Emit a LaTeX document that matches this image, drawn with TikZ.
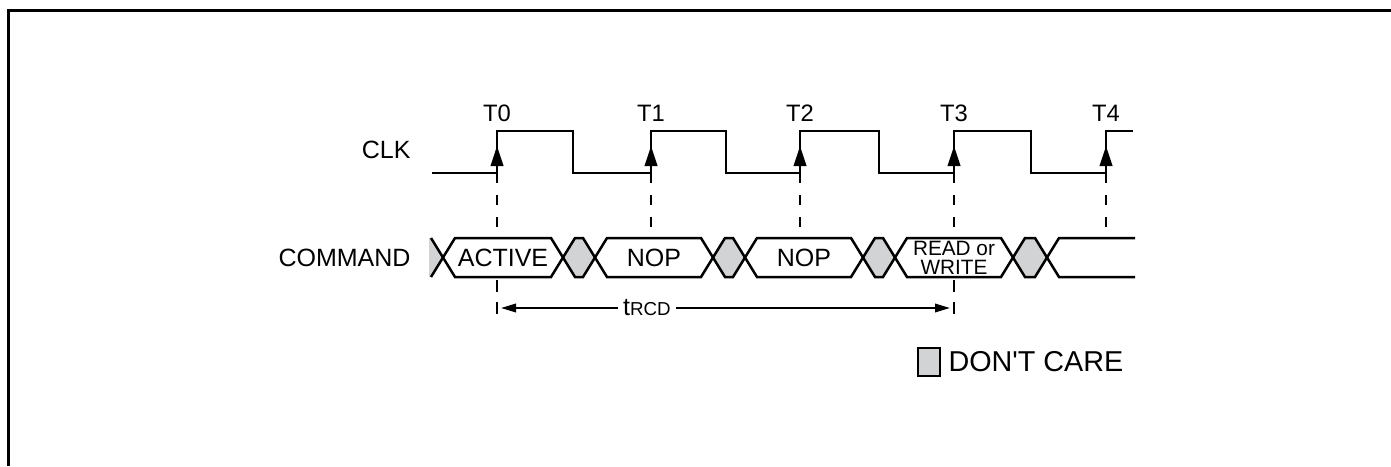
\documentclass[tikz,border=0pt]{standalone}
\usepackage{fontspec}
\setmainfont{Liberation Sans}
\usetikzlibrary{arrows.meta}
\definecolor{dontcare}{HTML}{D1D3D4}
\tikzset{
  wave/.style={line width=1pt, draw=black},
  bus/.style={line width=1pt, draw=black, fill=white},
  gapbus/.style={line width=1pt, draw=black, fill=dontcare},
  marker/.style={line width=0.9pt, draw=black, dash pattern=on 4pt off 4.8pt},
  edgearrow/.style={line width=0.9pt, -{Triangle[length=8pt,width=5pt]}},
  dim/.style={line width=0.8pt, -{Triangle[length=6pt,width=3.4pt]}, shorten >=1.6pt},
  sig/.style={font=\fontsize{10}{12}\selectfont, anchor=east, inner sep=0pt},
  lbl/.style={font=\fontsize{9.5}{11}\selectfont, inner sep=0pt}
}
\begin{document}
\begin{tikzpicture}[x=0.4pt,y=-0.4pt]
  \useasboundingbox (0,0) rectangle (1391,466);
  % frame
  \draw[line width=1.2pt] (8,466) -- (8,11) -- (1391,11);
  % signal names
  \node[sig] (clk) at (411,150) {CLK};
  \node[sig] (cmd) at (411,257.5) {COMMAND};
  % clock
  \draw[wave] (432,173) -| (497,131) -| (573,173) -| (651,131) -| (726,173)
    -| (800,131) -| (879,173) -| (954,131) -| (1031,173) -| (1106,131) -- (1133,131);
  \foreach \x [count=\i from 0] in {497,651,800,954,1106} {
    \coordinate (e\i) at (\x,173);
    \node[lbl] (t\i) at (\x,113) {T\i};
    \draw[edgearrow] (e\i) -- ++(0,-27);
    \draw[marker] (e\i) -- (\x,238);
  }
  % command bus
  \fill[dontcare] (429,238) -- (431,238) -- (443,257.5) -- (431,277) -- (429,277) -- cycle;
  \draw[wave] (431,238) -- (443,257.5) -- (431,277);
  \foreach \b/\a in {563/595,713/745,863/895,1013/1047}
    \draw[gapbus] (\b,257.5) -- (\b+12,238) -- (\a-12,238) -- (\a,257.5)
      -- (\a-12,277) -- (\b+12,277) -- cycle;
  \foreach \a/\b/\name [count=\k] in {443/563/ACTIVE,595/713/NOP,745/863/NOP} {
    \draw[bus] (\a,257.5) -- (\a+12,238) -- (\b-12,238) -- (\b,257.5)
      -- (\b-12,277) -- (\a+12,277) -- cycle;
    \node[lbl, font=\fontsize{10}{12}\selectfont] (c\k) at ({(\a+\b)/2},258) {\name};
  }
  \draw[bus] (895,257.5) -- (907,238) -- (1001,238) -- (1013,257.5)
    -- (1001,277) -- (907,277) -- cycle;
  \node[lbl, align=center, font=\fontsize{8.3}{7.8}\selectfont] (c4) at (954,258) {READ or\\WRITE};
  \draw[wave] (1135,238) -- (1059,238) -- (1047,257.5) -- (1059,277) -- (1135,277);
  % tRCD
  \foreach \x/\i in {497/0,954/3} {
    \draw[line width=0.9pt] (\x,280) -- (\x,292);
    \draw[line width=0.9pt] (\x,302) -- (\x,314);
    \coordinate (m\i) at (\x,308);
  }
  \node[fill=white, inner sep=2pt, font=\fontsize{10}{12}\selectfont] (trcd) at (647,308)
    {t{\fontsize{7.5}{9}\selectfont RCD}};
  \draw[dim] (trcd) -- (m0);
  \draw[dim] (trcd) -- (m3);
  % legend
  \node[draw, fill=dontcare, line width=0.8pt, minimum width=9pt, minimum height=11pt,
    inner sep=0pt] (dc) at (929,362) {};
  \node[anchor=west, inner sep=0pt, font=\fontsize{11.5}{13}\selectfont] (dctext) at (948,362)
    {DON\textquotesingle T CARE};
\end{tikzpicture}
\end{document}
